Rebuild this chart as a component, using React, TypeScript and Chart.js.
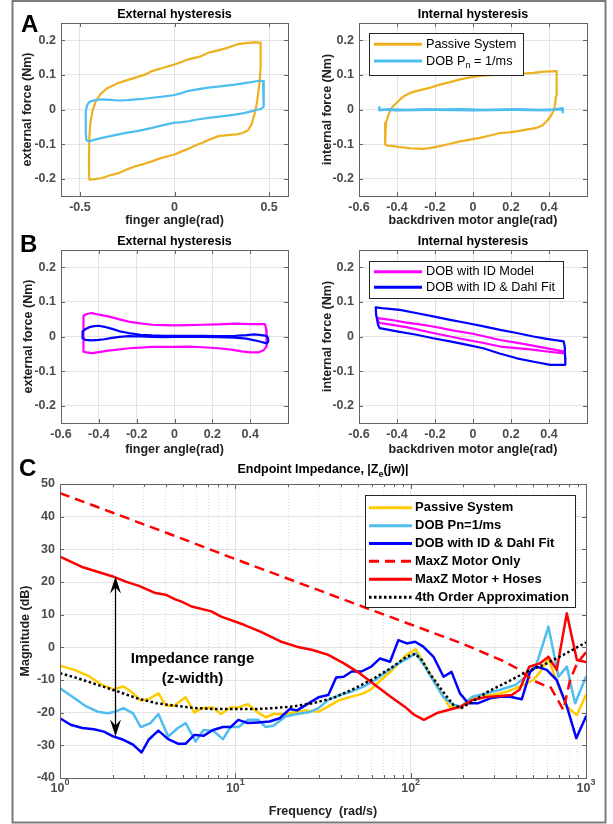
import React, { useEffect, useRef } from "react";
import { Chart, registerables } from "chart.js";

Chart.register(...registerables);

const FAMILY = '"Liberation Sans", Arial, Helvetica, sans-serif';
Chart.defaults.font.family = FAMILY;
const PAGE_W = 613;
const PAGE_H = 824;

// ---------------- Panel A : External hysteresis ----------------
const aExtPassiveAngle = [-0.450,-0.420,-0.383,-0.340,-0.295,-0.250,-0.207,-0.160,-0.119,-0.080,-0.040,0.000,0.038,0.080,0.110,0.144,0.180,0.232,0.280,0.328,0.360,0.389,0.407,0.424,0.436,0.442,0.450,0.455,0.456,0.455,0.420,0.372,0.330,0.284,0.230,0.179,0.130,0.074,0.030,0.000,-0.050,-0.119,-0.160,-0.207,-0.250,-0.295,-0.330,-0.360,-0.390,-0.415,-0.432,-0.445,-0.450,-0.452,-0.452,-0.450];
const aExtPassiveForce = [-0.203,-0.201,-0.198,-0.190,-0.184,-0.173,-0.164,-0.157,-0.150,-0.142,-0.136,-0.130,-0.121,-0.112,-0.104,-0.097,-0.088,-0.077,-0.074,-0.072,-0.068,-0.060,-0.043,-0.012,0.020,0.045,0.080,0.120,0.160,0.193,0.194,0.192,0.188,0.179,0.171,0.164,0.152,0.145,0.136,0.130,0.122,0.111,0.100,0.092,0.085,0.077,0.068,0.060,0.045,0.025,0.000,-0.040,-0.080,-0.130,-0.180,-0.203];
const aExtDobAngle = [-0.462,-0.450,-0.420,-0.383,-0.340,-0.295,-0.250,-0.207,-0.160,-0.119,-0.060,0.000,0.040,0.074,0.120,0.179,0.240,0.319,0.380,0.424,0.455,0.468,0.472,0.473,0.470,0.455,0.442,0.400,0.360,0.319,0.260,0.179,0.120,0.074,0.030,0.000,-0.060,-0.119,-0.160,-0.207,-0.250,-0.295,-0.340,-0.383,-0.420,-0.453,-0.466,-0.470,-0.470,-0.468,-0.462];
const aExtDobForce = [0.012,0.022,0.027,0.029,0.028,0.026,0.027,0.029,0.031,0.034,0.037,0.042,0.048,0.054,0.058,0.063,0.067,0.072,0.077,0.081,0.083,0.082,0.060,0.030,0.008,0.001,0.000,-0.006,-0.011,-0.015,-0.019,-0.024,-0.029,-0.034,-0.037,-0.038,-0.045,-0.053,-0.058,-0.063,-0.067,-0.072,-0.077,-0.082,-0.087,-0.092,-0.088,-0.060,-0.030,-0.005,0.012];

// ---------------- Panel A : Internal hysteresis ----------------
const aIntPassiveAngle = [0.440,0.400,0.360,0.317,0.270,0.230,0.190,0.142,0.090,0.037,-0.015,-0.068,-0.120,-0.174,-0.220,-0.261,-0.300,-0.330,-0.360,-0.384,-0.410,-0.428,-0.445,-0.458,-0.462,-0.463,-0.455,-0.420,-0.384,-0.330,-0.261,-0.220,-0.174,-0.120,-0.068,-0.015,0.037,0.090,0.142,0.190,0.230,0.280,0.335,0.365,0.388,0.410,0.423,0.432,0.437,0.440,0.441,0.440];
const aIntPassiveForce = [0.111,0.110,0.109,0.106,0.104,0.101,0.102,0.101,0.099,0.097,0.093,0.087,0.079,0.072,0.064,0.058,0.053,0.048,0.040,0.029,0.015,0.005,-0.015,-0.039,-0.070,-0.101,-0.104,-0.106,-0.109,-0.112,-0.114,-0.111,-0.106,-0.099,-0.092,-0.087,-0.082,-0.075,-0.068,-0.066,-0.063,-0.058,-0.053,-0.046,-0.034,-0.018,-0.005,0.015,0.039,0.070,0.095,0.111];
const aIntDobAngle = [-0.493,-0.493,-0.450,-0.350,-0.250,-0.150,-0.050,0.050,0.150,0.250,0.350,0.450,0.472,0.472,0.472,0.400,0.200,0.000,-0.200,-0.400,-0.493];
const aIntDobForce = [0.007,-0.002,0.001,-0.001,0.001,0.000,0.001,-0.001,0.000,0.001,-0.001,0.000,0.000,-0.008,0.004,-0.002,-0.001,-0.002,-0.001,-0.002,0.000];

// ---------------- Panel B : External hysteresis ----------------
const bExtIdAngle = [-0.480,-0.465,-0.437,-0.400,-0.350,-0.300,-0.243,-0.180,-0.120,-0.060,0.000,0.070,0.144,0.230,0.320,0.400,0.450,0.478,0.485,0.487,0.487,0.470,0.443,0.400,0.355,0.300,0.232,0.150,0.074,0.000,-0.060,-0.120,-0.180,-0.243,-0.300,-0.350,-0.400,-0.437,-0.465,-0.480,-0.482,-0.482,-0.481,-0.480];
const bExtIdForce = [0.060,0.065,0.068,0.063,0.058,0.051,0.043,0.038,0.034,0.033,0.032,0.033,0.034,0.035,0.037,0.036,0.036,0.036,0.020,0.000,-0.029,-0.040,-0.046,-0.046,-0.043,-0.038,-0.034,-0.031,-0.029,-0.030,-0.030,-0.030,-0.032,-0.034,-0.038,-0.041,-0.045,-0.048,-0.046,-0.044,-0.020,0.010,0.040,0.060];
const bExtDahlAngle = [-0.485,-0.470,-0.450,-0.425,-0.400,-0.370,-0.330,-0.290,-0.243,-0.180,-0.120,-0.060,0.000,0.070,0.144,0.230,0.320,0.380,0.423,0.460,0.487,0.495,0.495,0.487,0.460,0.423,0.380,0.320,0.230,0.144,0.070,0.000,-0.060,-0.120,-0.180,-0.243,-0.290,-0.330,-0.370,-0.400,-0.440,-0.470,-0.485,-0.487,-0.485];
const bExtDahlForce = [0.015,0.022,0.027,0.030,0.031,0.028,0.022,0.015,0.010,0.005,0.003,0.002,0.002,0.002,0.002,0.001,0.002,0.004,0.006,0.004,0.002,-0.005,-0.015,-0.020,-0.016,-0.011,-0.006,-0.003,-0.002,-0.001,-0.001,-0.001,-0.002,-0.001,0.000,0.001,-0.001,-0.004,-0.008,-0.010,-0.011,-0.010,-0.005,0.005,0.015];

// ---------------- Panel B : Internal hysteresis ----------------
const bIntIdAngle = [-0.500,-0.420,-0.350,-0.280,-0.210,-0.100,0.000,0.143,0.250,0.350,0.420,0.477,0.480,0.400,0.300,0.143,0.050,-0.050,-0.210,-0.350,-0.450,-0.490,-0.500,-0.500];
const bIntIdForce = [0.053,0.047,0.040,0.035,0.029,0.017,0.008,-0.010,-0.020,-0.030,-0.037,-0.043,-0.049,-0.044,-0.037,-0.029,-0.018,-0.008,0.010,0.027,0.036,0.039,0.045,0.053];
const bIntDahlAngle = [-0.512,-0.480,-0.440,-0.385,-0.300,-0.210,-0.120,-0.033,0.050,0.143,0.230,0.318,0.380,0.424,0.477,0.483,0.485,0.486,0.450,0.407,0.320,0.231,0.140,0.054,-0.030,-0.121,-0.210,-0.297,-0.400,-0.491,-0.500,-0.505,-0.510,-0.512];
const bIntDahlForce = [0.084,0.082,0.080,0.077,0.068,0.058,0.048,0.039,0.030,0.019,0.010,0.000,-0.006,-0.010,-0.014,-0.030,-0.060,-0.082,-0.082,-0.082,-0.073,-0.063,-0.049,-0.034,-0.024,-0.014,-0.005,0.005,0.015,0.024,0.034,0.050,0.063,0.084];

// ---------------- Panel C : Endpoint impedance ----------------
const passiveFreq = [1,1.21,1.48,1.73,2.02,2.3,2.54,2.89,3.2,3.64,4.03,4.47,5.21,5.84,6.4,7.46,8.27,9.4,10.4,11.8,13.5,14.9,16.5,19.3,22.5,24.9,29.8,33.9,39.5,46.1,53.8,59.6,67.7,76.9,85.3,94.6,107,119,132,146,166,189,215,250,292,353,421,501,547,611,711,777,887,1000];
const passiveMag = [-5.6,-6.9,-9.0,-11.5,-12.8,-12.0,-13.5,-16.3,-15.9,-14.1,-17.9,-17.9,-15.3,-20.0,-18.6,-18.4,-20.4,-18.4,-18.4,-17.4,-20.0,-21.4,-20.4,-20.4,-19.7,-19.3,-19.7,-18.1,-16.1,-15.1,-14.1,-12.8,-10.0,-7.4,-4.9,-2.3,-0.6,-4.9,-9.0,-13.0,-18.1,-18.6,-16.1,-14.6,-14.6,-13.6,-12.0,-10.0,-7.5,-3.5,-13.1,-18.2,-20.7,-14.6];
const dobFreq = [1,1.21,1.41,1.64,1.87,2.07,2.3,2.61,2.89,3.28,3.64,4.14,4.7,5.21,5.93,6.58,7.46,8.5,9.4,10.4,11.8,13.5,14.9,16.5,19.3,22.5,26.3,29.8,33.9,39.5,46.1,53.8,63,73,85.3,99.6,107,119,134,153,175,194,225,269,324,397,463,524,611,697,777,867,1000];
const dobMag = [-12.5,-15.6,-18.1,-19.7,-20.2,-19.7,-18.6,-20.2,-24.4,-23.2,-20.4,-27.3,-24.7,-23.2,-28.8,-25.3,-25.5,-28.1,-24.4,-24.4,-22.2,-22.2,-24.4,-24.0,-21.2,-20.4,-19.9,-18.6,-16.1,-14.6,-13.5,-12.0,-10.0,-7.4,-4.9,-2.9,-1.8,-5.4,-10.0,-15.1,-17.6,-18.1,-15.1,-14.1,-13.0,-11.5,-8.5,-4.9,6.3,-9.0,-5.9,-17.1,-9.0];
const dahlFreq = [1,1.15,1.34,1.56,1.78,2.02,2.3,2.61,2.92,3.2,3.64,4.14,4.7,5.21,5.84,6.58,7.46,8.5,9.4,10.4,11.8,13.5,15.7,17.9,20.4,22.5,26.3,29.8,33.9,37.6,41.5,46.1,52.4,59.6,66.9,76.3,85.1,95,106,118,135,154,171,191,213,243,284,324,369,430,480,524,597,681,777,880,1000];
const dahlMag = [-21.7,-23.7,-24.7,-25.1,-25.8,-27.3,-28.3,-29.8,-32.2,-28.3,-25.5,-28.1,-29.5,-29.5,-26.8,-27.1,-25.3,-24.4,-24.4,-22.2,-23.2,-23.0,-22.7,-21.7,-18.9,-19.3,-17.1,-15.3,-14.6,-9.2,-9.0,-7.4,-7.4,-5.9,-3.4,-4.4,2.2,1.2,1.7,0.2,-2.9,-9.0,-7.5,-14.1,-17.1,-17.1,-15.6,-15.1,-15.1,-15.9,-7.5,-5.9,-6.9,-10.0,-18.0,-27.8,-21.2];
const motorFreq = [1,2,5,10,20,50,100,200,338,403,501,571,624,681,743,811,887,1000];
const motorMag = [47.2,41.2,33.2,27.0,21.0,13.0,7.0,1.0,-4.2,-6.4,-10.2,-11.5,-12.0,-15.5,-19.2,-10.0,-5.0,-1.5];
const hosesFreq = [1,1.35,2.0,2.37,2.82,3.5,4.0,4.54,4.94,5.63,7.3,8.3,11.2,13.9,18.1,22.4,27.6,33.9,41.6,51.1,62.7,76.9,94.6,105,119,143,166,194,226,264,324,377,418,475,547,611,681,777,887,1000];
const hosesMag = [27.8,24.5,21.7,20.1,18.8,16.6,16.1,14.7,14.0,12.5,11.0,9.4,6.9,4.8,1.8,0.2,-0.8,-2.3,-4.9,-7.9,-11.5,-15.1,-18.6,-20.7,-22.2,-20.0,-19.1,-18.1,-16.1,-15.3,-14.9,-14.6,-13.0,-5.9,-4.9,-2.9,-6.9,10.4,-3.9,-4.5];
const approxFreq = [1,1.27,1.64,2.13,2.75,3.55,4.58,5.93,7.66,9.9,12.8,16.5,21.3,27.6,35.7,46.1,59.6,76.9,94.6,106,116,128,150,175,194,225,277,359,463,598,773,1000];
const approxMag = [-7.9,-9.5,-11.5,-13.5,-15.6,-17.1,-17.9,-18.6,-18.9,-18.9,-18.9,-18.6,-18.1,-17.1,-15.6,-13.0,-10.0,-6.4,-2.9,-2.0,-3.9,-7.9,-13.0,-17.6,-18.6,-16.6,-13.5,-10.5,-7.4,-4.9,-1.8,1.5];

// ---------------- Tick lists ----------------
const hysXTicksA = [-0.5, 0, 0.5];
const hysXTicks = [-0.6, -0.4, -0.2, 0, 0.2, 0.4];
const hysYTicks = [-0.2, -0.1, 0, 0.1, 0.2];
const freqGridTicks = [1,2,3,4,5,6,7,8,9,10,20,30,40,50,60,70,80,90,100,200,300,400,500,600,700,800,900,1000];
const freqLabelTicks = [1, 10, 100, 1000];
const magTicks = [-40, -30, -20, -10, 0, 10, 20, 30, 40, 50];

// annotation (impedance range arrow) in data units
const zArrowFreq = 2.05;
const zArrowTopDb = 21.7;
const zArrowBottomDb = -27.3;
const zTextFreq = 5.7;
const zTextDb = [-3.5, -9.7];

// ---------------- Styles ----------------
const ORANGE = "#EDB120";
const LIGHT_BLUE = "#4DBEEE";
const MAGENTA = "#FF00FF";
const BLUE = "#0000FF";
const YELLOW = "#FFCC00";
const RED = "#FF0000";
const AXIS_COLOR = "#636363";
const GRID_COLOR = "#e3e3e3";
const MINOR_GRID_COLOR = "#dadada";
const TICK_COLOR = "#4b4b4b";
const LABEL_COLOR = "#202020";

type Seg = { t: string; sub?: boolean; sup?: boolean };
type LegendSpec = {
  box: [number, number, number, number];
  rows: number[];
  line: [number, number];
  textX: number;
  size: number;
  weight: string;
  lineWidth: number;
  labels: Seg[][];
};
interface Panel {
  plot: { l: number; t: number; r: number; b: number };
  logX?: boolean;
  xMin: number; xMax: number; yMin: number; yMax: number;
  xTicks: number[]; yTicks: number[];
  xTickLabels: boolean;
  fmtX: (v: number) => string; fmtY: (v: number) => string;
  xTitle: string; xTitleY: number;
  yTitle: string; yTitleX: number;
  xTickPad: number;
  title: Seg[]; titleY: number;
  datasets: any[];
  legend?: LegendSpec;
  extra?: (chart: any) => void;
}

function series(label: string, xs: number[], ys: number[], color: string, width: number, dash?: number[]) {
  return {
    label,
    data: xs.map((x, i) => ({ x, y: ys[i] })),
    showLine: true,
    borderColor: color,
    backgroundColor: color,
    borderWidth: width,
    borderDash: dash || [],
    pointRadius: 0,
    pointHoverRadius: 0,
    tension: 0,
    fill: false,
    borderJoinStyle: "round",
    borderCapStyle: dash ? "butt" : "round",
  };
}

function drawSegs(ctx: CanvasRenderingContext2D, segs: Seg[], x: number, y: number, size: number, weight: string, color: string, align: "left" | "center") {
  const main = `${weight} ${size}px ${FAMILY}`;
  const small = `${weight} ${Math.round(size * 0.72 * 10) / 10}px ${FAMILY}`;
  ctx.save();
  ctx.fillStyle = color;
  ctx.textBaseline = "middle";
  ctx.textAlign = "left";
  let total = 0;
  const widths = segs.map((s) => {
    ctx.font = s.sub || s.sup ? small : main;
    const w = ctx.measureText(s.t).width;
    total += w;
    return w;
  });
  let cx = align === "center" ? x - total / 2 : x;
  segs.forEach((s, i) => {
    ctx.font = s.sub || s.sup ? small : main;
    const dy = s.sub ? size * 0.38 : s.sup ? -size * 0.5 : 0;
    ctx.fillText(s.t, cx, y + dy);
    cx += widths[i];
  });
  ctx.restore();
}

const isDecade = (v: number) => Math.abs(Math.log10(v) - Math.round(Math.log10(v))) < 1e-9;
const hysFmt = (v: number) => (Math.abs(v) < 1e-9 ? "0" : v.toFixed(1));

function buildChart(canvas: HTMLCanvasElement, p: Panel) {
  const tickFont = { family: FAMILY, size: 12.5, weight: "bold" as const };
  const n = p.datasets.length;
  const decor = {
    id: "decor",
    afterDraw(chart: any) {
      const ctx: CanvasRenderingContext2D = chart.ctx;
      const a = chart.chartArea;
      const xs = chart.scales.x;
      const ys = chart.scales.y;
      ctx.save();
      ctx.setLineDash([]);
      ctx.strokeStyle = AXIS_COLOR;
      ctx.lineWidth = 1;
      ctx.beginPath();
      for (const t of xs.ticks) {
        const px = Math.round(xs.getPixelForValue(t.value)) + 0.5;
        const len = p.logX ? (isDecade(t.value) ? 5 : 3) : 4;
        ctx.moveTo(px, a.bottom);
        ctx.lineTo(px, a.bottom - len);
        ctx.moveTo(px, a.top);
        ctx.lineTo(px, a.top + len);
      }
      for (const t of ys.ticks) {
        const py = Math.round(ys.getPixelForValue(t.value)) + 0.5;
        ctx.moveTo(a.left, py);
        ctx.lineTo(a.left + 4, py);
        ctx.moveTo(a.right, py);
        ctx.lineTo(a.right - 4, py);
      }
      ctx.stroke();
      ctx.strokeRect(a.left + 0.5, a.top + 0.5, a.right - a.left, a.bottom - a.top);
      drawSegs(ctx, p.title, (a.left + a.right) / 2, p.titleY, 12.5, "bold", "#000", "center");
      if (p.legend) {
        const L = p.legend;
        const [bl, bt, br, bb] = L.box;
        ctx.fillStyle = "#fff";
        ctx.fillRect(bl, bt, br - bl, bb - bt);
        ctx.strokeStyle = "#262626";
        ctx.lineWidth = 1;
        ctx.strokeRect(Math.round(bl) + 0.5, Math.round(bt) + 0.5, Math.round(br - bl), Math.round(bb - bt));
        p.datasets.forEach((d, i) => {
          const y = L.rows[i];
          ctx.save();
          ctx.strokeStyle = d.borderColor;
          ctx.lineWidth = L.lineWidth;
          ctx.setLineDash(d.borderDash || []);
          ctx.lineCap = "butt";
          ctx.beginPath();
          ctx.moveTo(L.line[0], y);
          ctx.lineTo(L.line[1], y);
          ctx.stroke();
          ctx.restore();
          drawSegs(ctx, L.labels[i], L.textX, y, L.size, L.weight, "#000", "left");
        });
      }
      if (p.extra) p.extra(chart);
      ctx.restore();
    },
  };

  const gridColor = (c: any) => (p.logX && c.tick && !isDecade(c.tick.value) ? MINOR_GRID_COLOR : GRID_COLOR);
  const gridDash = (c: any) => (p.logX && c.tick && !isDecade(c.tick.value) ? [1, 2] : []);

  return new Chart(canvas, {
    type: "scatter",
    data: { datasets: p.datasets.map((d, i) => ({ ...d, order: n - i })) },
    options: {
      responsive: false,
      maintainAspectRatio: false,
      animation: false,
      devicePixelRatio: 1,
      events: [],
      layout: { padding: { left: 0, top: p.plot.t, right: PAGE_W - p.plot.r, bottom: 0 } },
      plugins: { legend: { display: false }, tooltip: { enabled: false }, title: { display: false } },
      scales: {
        x: {
          type: p.logX ? "logarithmic" : "linear",
          position: "bottom",
          min: p.xMin,
          max: p.xMax,
          afterBuildTicks: (s: any) => {
            s.ticks = p.xTicks.map((v) => ({ value: v }));
          },
          afterFit: (s: any) => {
            s.height = PAGE_H - p.plot.b;
          },
          grid: { color: gridColor, lineWidth: 1, drawTicks: false },
          border: { display: false, dash: gridDash },
          ticks: {
            display: p.xTickLabels,
            autoSkip: false,
            maxRotation: 0,
            padding: p.xTickPad,
            color: TICK_COLOR,
            font: tickFont,
            callback: (v: any) => p.fmtX(Number(v)),
          },
          title: {
            display: true,
            text: p.xTitle,
            color: LABEL_COLOR,
            font: tickFont,
            padding: { top: 0, bottom: PAGE_H - 7.5 - p.xTitleY },
          },
        },
        y: {
          type: "linear",
          position: "left",
          min: p.yMin,
          max: p.yMax,
          afterBuildTicks: (s: any) => {
            s.ticks = p.yTicks.map((v) => ({ value: v }));
          },
          afterFit: (s: any) => {
            s.width = p.plot.l;
          },
          grid: { color: GRID_COLOR, lineWidth: 1, drawTicks: false },
          border: { display: false },
          ticks: {
            autoSkip: false,
            padding: 5,
            color: TICK_COLOR,
            font: tickFont,
            callback: (v: any) => p.fmtY(Number(v)),
          },
          title: {
            display: true,
            text: p.yTitle,
            color: LABEL_COLOR,
            font: tickFont,
            padding: { top: p.yTitleX - 7.5, bottom: 0 },
          },
        },
      },
    } as any,
    plugins: [decor],
  });
}

function impedanceExtras(chart: any) {
  const ctx: CanvasRenderingContext2D = chart.ctx;
  const xs = chart.scales.x;
  const ys = chart.scales.y;
  const a = chart.chartArea;
  // decade labels 10^n
  freqLabelTicks.forEach((v) => {
    const px = xs.getPixelForValue(v);
    drawSegs(ctx, [{ t: "10" }, { t: String(Math.round(Math.log10(v))), sup: true }], px, a.bottom + 10.5, 12.5, "bold", TICK_COLOR, "center");
  });
  // impedance-range double arrow
  const ax = Math.round(xs.getPixelForValue(zArrowFreq)) + 0.5;
  const yTop = ys.getPixelForValue(zArrowTopDb);
  const yBot = ys.getPixelForValue(zArrowBottomDb);
  ctx.save();
  ctx.strokeStyle = "#000";
  ctx.fillStyle = "#000";
  ctx.lineWidth = 1.3;
  ctx.beginPath();
  ctx.moveTo(ax, yTop + 8);
  ctx.lineTo(ax, yBot - 8);
  ctx.stroke();
  const head = (tip: number, dir: number) => {
    ctx.beginPath();
    ctx.moveTo(ax, tip);
    ctx.lineTo(ax - 5.5, tip + dir * 17);
    ctx.lineTo(ax, tip + dir * 11);
    ctx.lineTo(ax + 5.5, tip + dir * 17);
    ctx.closePath();
    ctx.fill();
  };
  head(yTop, 1);
  head(yBot, -1);
  ctx.restore();
  const tx = xs.getPixelForValue(zTextFreq);
  drawSegs(ctx, [{ t: "Impedance range" }], tx, ys.getPixelForValue(zTextDb[0]), 15, "bold", "#000", "center");
  drawSegs(ctx, [{ t: "(z-width)" }], tx, ys.getPixelForValue(zTextDb[1]), 15, "bold", "#000", "center");
  // figure frame and panel letters
  ctx.save();
  ctx.strokeStyle = "#7a7a7a";
  ctx.lineWidth = 2;
  ctx.strokeRect(12.5, 1, 593, 821.5);
  ctx.fillStyle = "#000";
  ctx.font = `bold 24px ${FAMILY}`;
  ctx.textBaseline = "alphabetic";
  ctx.textAlign = "left";
  ctx.fillText("A", 21, 32);
  ctx.fillText("B", 20, 252);
  ctx.fillText("C", 19, 476);
  ctx.restore();
}

const PANELS: Panel[] = [
  {
    plot: { l: 61, t: 23, r: 288, b: 196 },
    xMin: -0.6, xMax: 0.6, yMin: -0.25, yMax: 0.25,
    xTicks: hysXTicksA, yTicks: hysYTicks, xTickLabels: true,
    fmtX: hysFmt, fmtY: hysFmt,
    xTitle: "finger angle(rad)", xTitleY: 221,
    yTitle: "external force (Nm)", yTitleX: 28,
    xTickPad: 4,
    title: [{ t: "External hysteresis" }], titleY: 15,
    datasets: [
      series("Passive System", aExtPassiveAngle, aExtPassiveForce, ORANGE, 2.2),
      series("DOB Pn = 1/ms", aExtDobAngle, aExtDobForce, LIGHT_BLUE, 2.2),
    ],
  },
  {
    plot: { l: 359, t: 23, r: 587, b: 196 },
    xMin: -0.6, xMax: 0.6, yMin: -0.25, yMax: 0.25,
    xTicks: hysXTicks, yTicks: hysYTicks, xTickLabels: true,
    fmtX: hysFmt, fmtY: hysFmt,
    xTitle: "backdriven motor angle(rad)", xTitleY: 221,
    yTitle: "internal force (Nm)", yTitleX: 327.5,
    xTickPad: 4,
    title: [{ t: "Internal hysteresis" }], titleY: 15,
    datasets: [
      series("Passive System", aIntPassiveAngle, aIntPassiveForce, ORANGE, 2.2),
      series("DOB Pn = 1/ms", aIntDobAngle, aIntDobForce, LIGHT_BLUE, 2.4),
    ],
    legend: {
      box: [369, 33, 523, 75],
      rows: [44.3, 61],
      line: [374, 422],
      textX: 426,
      size: 12.7,
      weight: "normal",
      lineWidth: 3,
      labels: [[{ t: "Passive System" }], [{ t: "DOB P" }, { t: "n", sub: true }, { t: " = 1/ms" }]],
    },
  },
  {
    plot: { l: 61, t: 250, r: 288, b: 423 },
    xMin: -0.6, xMax: 0.6, yMin: -0.25, yMax: 0.25,
    xTicks: hysXTicks, yTicks: hysYTicks, xTickLabels: true,
    fmtX: hysFmt, fmtY: hysFmt,
    xTitle: "finger angle(rad)", xTitleY: 450,
    yTitle: "external force (Nm)", yTitleX: 29,
    xTickPad: 4,
    title: [{ t: "External hysteresis" }], titleY: 242,
    datasets: [
      series("DOB with ID Model", bExtIdAngle, bExtIdForce, MAGENTA, 2.2),
      series("DOB with ID & Dahl Fit", bExtDahlAngle, bExtDahlForce, BLUE, 2.2),
    ],
  },
  {
    plot: { l: 359, t: 250, r: 587, b: 423 },
    xMin: -0.6, xMax: 0.6, yMin: -0.25, yMax: 0.25,
    xTicks: hysXTicks, yTicks: hysYTicks, xTickLabels: true,
    fmtX: hysFmt, fmtY: hysFmt,
    xTitle: "backdriven motor angle(rad)", xTitleY: 449.5,
    yTitle: "internal force (Nm)", yTitleX: 327.7,
    xTickPad: 4,
    title: [{ t: "Internal hysteresis" }], titleY: 242,
    datasets: [
      series("DOB with ID Model", bIntIdAngle, bIntIdForce, MAGENTA, 2.2),
      series("DOB with ID & Dahl Fit", bIntDahlAngle, bIntDahlForce, BLUE, 2.2),
    ],
    legend: {
      box: [369, 261, 563, 298],
      rows: [271.7, 287.3],
      line: [374, 422],
      textX: 426,
      size: 12.7,
      weight: "normal",
      lineWidth: 3,
      labels: [[{ t: "DOB with ID Model" }], [{ t: "DOB with ID & Dahl Fit" }]],
    },
  },
  {
    plot: { l: 60, t: 484, r: 586, b: 778 },
    logX: true,
    xMin: 1, xMax: 1000, yMin: -40, yMax: 50,
    xTicks: freqGridTicks, yTicks: magTicks, xTickLabels: false,
    fmtX: (v) => String(v), fmtY: (v) => String(v),
    xTitle: "Frequency  (rad/s)", xTitleY: 811.5,
    yTitle: "Magnitude (dB)", yTitleX: 26,
    xTickPad: 3,
    title: [{ t: "Endpoint Impedance, |Z" }, { t: "e", sub: true }, { t: "(jw)|" }], titleY: 470,
    datasets: [
      series("Passive System", passiveFreq, passiveMag, YELLOW, 2.5),
      series("DOB Pn=1/ms", dobFreq, dobMag, LIGHT_BLUE, 2.5),
      series("DOB with ID & Dahl Fit", dahlFreq, dahlMag, BLUE, 2.5),
      series("MaxZ Motor Only", motorFreq, motorMag, RED, 2.5, [10, 6]),
      series("MaxZ Motor + Hoses", hosesFreq, hosesMag, RED, 2.5),
      series("4th Order Approximation", approxFreq, approxMag, "#000000", 2.5, [2.5, 2.5]),
    ],
    legend: {
      box: [365, 495, 575, 607],
      rows: [507.7, 525.7, 543.5, 561.3, 579.3, 597.3],
      line: [369, 412],
      textX: 415,
      size: 13,
      weight: "bold",
      lineWidth: 3,
      labels: [
        [{ t: "Passive System" }],
        [{ t: "DOB Pn=1/ms" }],
        [{ t: "DOB with ID & Dahl Fit" }],
        [{ t: "MaxZ Motor Only" }],
        [{ t: "MaxZ Motor + Hoses" }],
        [{ t: "4th Order Approximation" }],
      ],
    },
    extra: impedanceExtras,
  },
];

export default function App() {
  const canvases = useRef<(HTMLCanvasElement | null)[]>([]);
  useEffect(() => {
    const charts = PANELS.map((p, i) => buildChart(canvases.current[i] as HTMLCanvasElement, p));
    return () => charts.forEach((c) => c.destroy());
  }, []);
  return (
    <div style={{ position: "fixed", left: 0, top: 0, width: PAGE_W, height: PAGE_H, background: "#fff", overflow: "hidden" }}>
      {PANELS.map((_, i) => (
        <canvas
          key={i}
          ref={(el) => {
            canvases.current[i] = el;
          }}
          width={PAGE_W}
          height={PAGE_H}
          style={{ position: "absolute", left: 0, top: 0, width: PAGE_W, height: PAGE_H }}
        />
      ))}
    </div>
  );
}
